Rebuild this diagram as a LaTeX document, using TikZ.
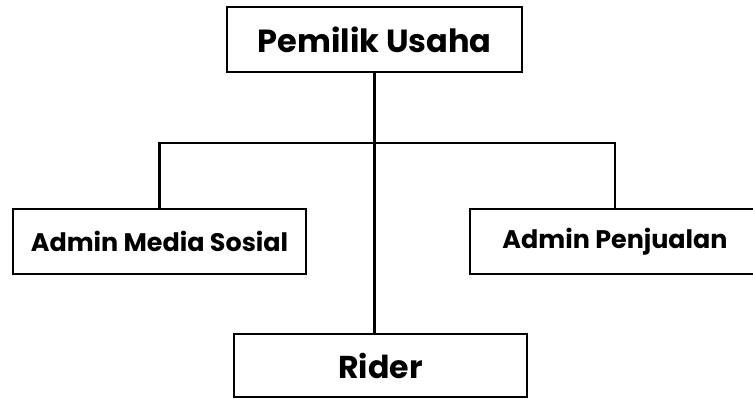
\documentclass[tikz,border=0pt]{standalone}
\usepackage{fontspec}
\setmainfont{Poppins}
\begin{document}
\begin{tikzpicture}[x=0.5pt,y=0.5pt,
  box/.style={draw, line width=1.2pt, inner sep=0pt, minimum height=32.5pt, font=\bfseries}]
\useasboundingbox (0,0) rectangle (753,-399);
\node[box, minimum width=147.5pt, font=\bfseries\fontsize{16}{19}\selectfont] (pemilik) at (374.5,-39.5) {Pemilik Usaha};
\node[box, minimum width=146.5pt, font=\bfseries\fontsize{12.7}{15}\selectfont] (sosial) at (159.5,-241.5) {Admin Media Sosial};
\node[box, minimum width=145pt, font=\bfseries\fontsize{12.7}{15}\selectfont] (jual) at (615,-241.5) {Admin Penjualan};
\node[box, minimum width=146.5pt, minimum height=31.5pt, font=\bfseries\fontsize{15.8}{19}\selectfont] (rider) at (380.5,-365.5) {Rider};
\coordinate (bar) at (0,-143);
\path[draw,line width=1.2pt] (pemilik.south) -- (pemilik.south |- rider.north);
\path[draw,line width=1.2pt] (sosial.north) |- (pemilik.south |- bar) -| (jual.north);
\end{tikzpicture}
\end{document}
